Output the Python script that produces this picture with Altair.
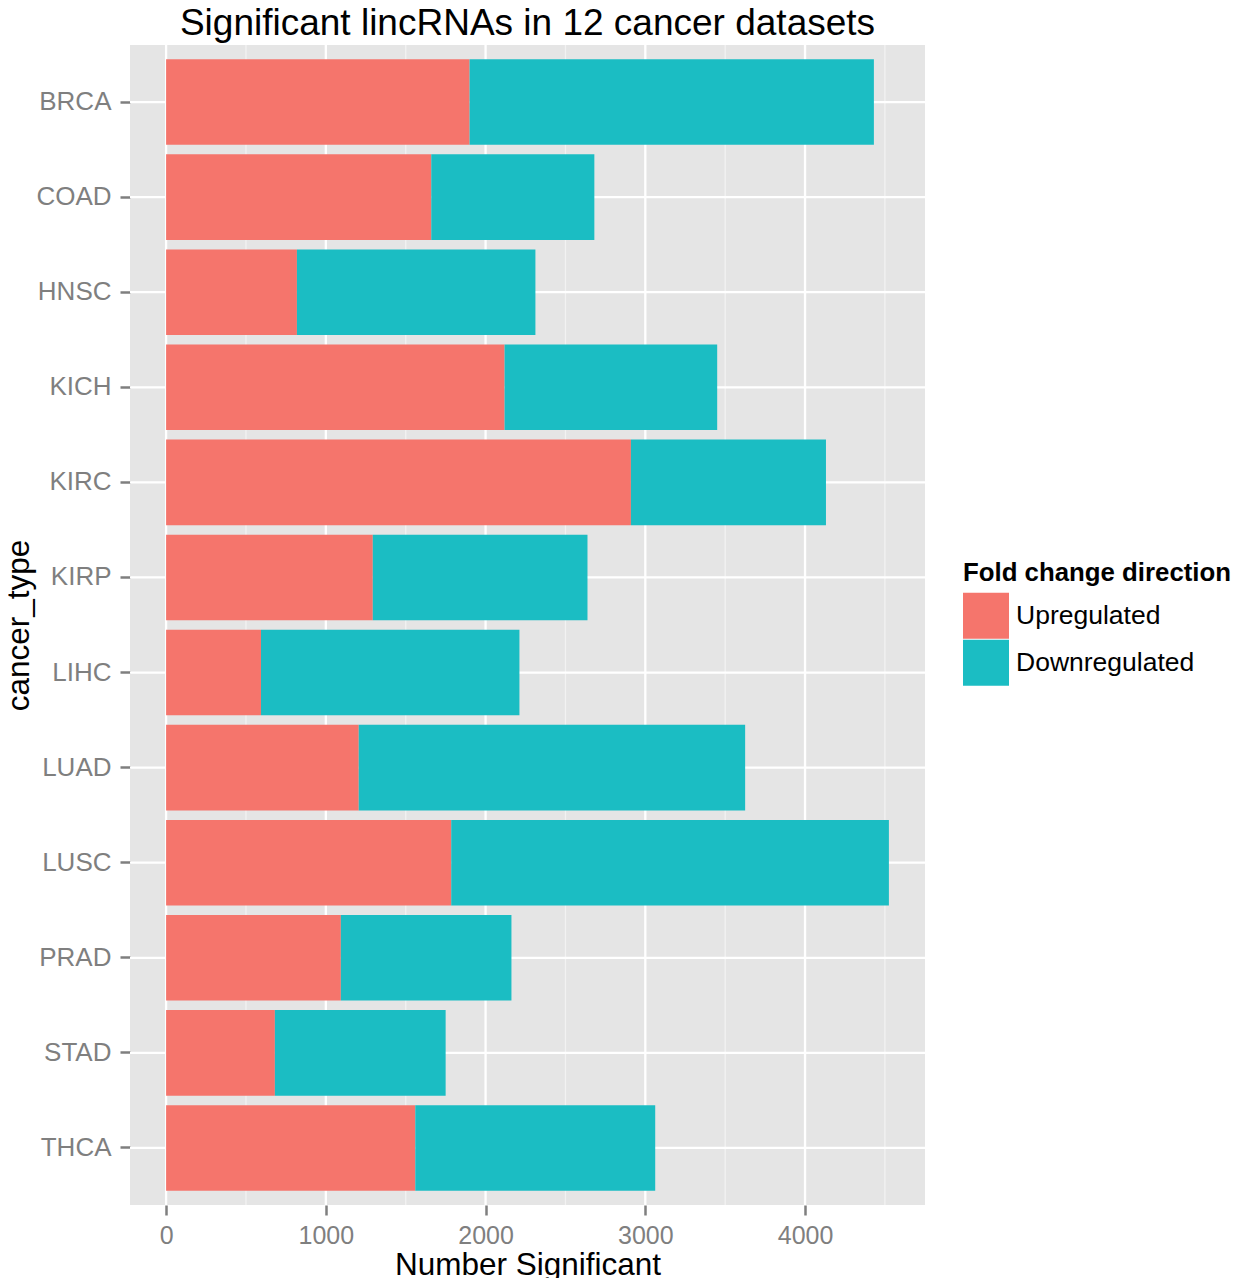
import altair as alt
import pandas as pd

cancer_types = ["BRCA", "COAD", "HNSC", "KICH", "KIRC", "KIRP",
                "LIHC", "LUAD", "LUSC", "PRAD", "STAD", "THCA"]
upregulated = [1900, 1660, 819, 2119, 2910, 1294, 594, 1206, 1785, 1094, 681, 1560]
totals = [4431, 2681, 2312, 3450, 4131, 2638, 2212, 3625, 4525, 2162, 1750, 3062]
downregulated = [t - u for t, u in zip(totals, upregulated)]
directions = ["Upregulated", "Downregulated"]
colors = ["#F5756C", "#1BBDC3"]
major_ticks = [0, 1000, 2000, 3000, 4000]
minor_ticks = [500, 1500, 2500, 3500, 4500]
x_domain = [-226, 4751]

rows = []
for c, u, d in zip(cancer_types, upregulated, downregulated):
    rows.append({"cancer_type": c, "direction": "Upregulated", "count": u, "ord": 0})
    rows.append({"cancer_type": c, "direction": "Downregulated", "count": d, "ord": 1})
df = pd.DataFrame(rows)

FONT = "Liberation Sans"
W, H = 795, 1160

yscale = alt.Scale(domain=cancer_types, paddingInner=0.1, paddingOuter=0.15)
xscale = alt.Scale(domain=x_domain, nice=False, zero=False)

xaxis = alt.Axis(values=major_ticks, format="d", grid=False, domain=False,
                 labelFontSize=25, labelColor="#7F7F7F", labelFont=FONT,
                 labelBaseline="alphabetic", labelPadding=28,
                 tickColor="#7F7F7F", tickSize=10, tickWidth=2.5,
                 title="Number Significant", titleFont=FONT, titleFontSize=31.5,
                 titleFontWeight="normal", titleColor="black",
                 titleX=W / 2, titleY=69, titleBaseline="alphabetic", titleAlign="center")
yaxis = alt.Axis(grid=False, domain=False,
                 labelFontSize=26, labelColor="#7F7F7F", labelFont=FONT,
                 labelPadding=9, tickColor="#7F7F7F", tickSize=10, tickWidth=2.5,
                 title="cancer_type", titleFont=FONT, titleFontSize=31.5,
                 titleFontWeight="normal", titleColor="black", titleAngle=270,
                 titleX=-102, titleY=H / 2, titleBaseline="alphabetic", titleAlign="center")

minor = alt.Chart(pd.DataFrame({"v": minor_ticks})).mark_rule(
    color="#F2F2F2", strokeWidth=1.3).encode(
    x=alt.X("v:Q", scale=xscale, axis=xaxis))
major = alt.Chart(pd.DataFrame({"v": major_ticks})).mark_rule(
    color="white", strokeWidth=2.3).encode(
    x=alt.X("v:Q", scale=xscale, axis=xaxis))
hgrid = alt.Chart(pd.DataFrame({"cancer_type": cancer_types})).mark_rule(
    color="white", strokeWidth=2.3).encode(
    y=alt.Y("cancer_type:N", scale=yscale, sort=cancer_types, axis=yaxis))

bars = alt.Chart(df).mark_bar(strokeWidth=0).encode(
    y=alt.Y("cancer_type:N", scale=yscale, sort=cancer_types, axis=yaxis),
    x=alt.X("count:Q", stack="zero", scale=xscale, axis=xaxis),
    color=alt.Color("direction:N",
                    scale=alt.Scale(domain=directions, range=colors),
                    legend=alt.Legend(title="Fold change direction", orient="none",
                                      legendX=833, legendY=516,
                                      titleFont=FONT, titleFontSize=25.8,
                                      titleFontWeight="bold", titleColor="black",
                                      titlePadding=6, titleLimit=0, labelLimit=0,
                                      labelFont=FONT, labelFontSize=26.5,
                                      labelColor="black", labelOffset=7,
                                      symbolType="square", symbolSize=2116,
                                      symbolStrokeWidth=0, symbolOpacity=1,
                                      rowPadding=1, padding=0)),
    order=alt.Order("ord:Q"),
)

chart = alt.layer(minor, major, hgrid, bars).properties(
    width=W, height=H,
    background="white",
    title=alt.TitleParams("Significant lincRNAs in 12 cancer datasets",
                          font=FONT, fontSize=37, fontWeight="normal",
                          color="black", anchor="middle", frame="group",
                          baseline="alphabetic", offset=3, dy=31),
    autosize=alt.AutoSizeParams(type="none"),
    padding={"left": 122, "top": 37, "right": 310, "bottom": 80},
).configure_view(fill="#E5E5E5", stroke=None)

chart.save("out.html", embed_options={"renderer": "svg", "actions": False})
